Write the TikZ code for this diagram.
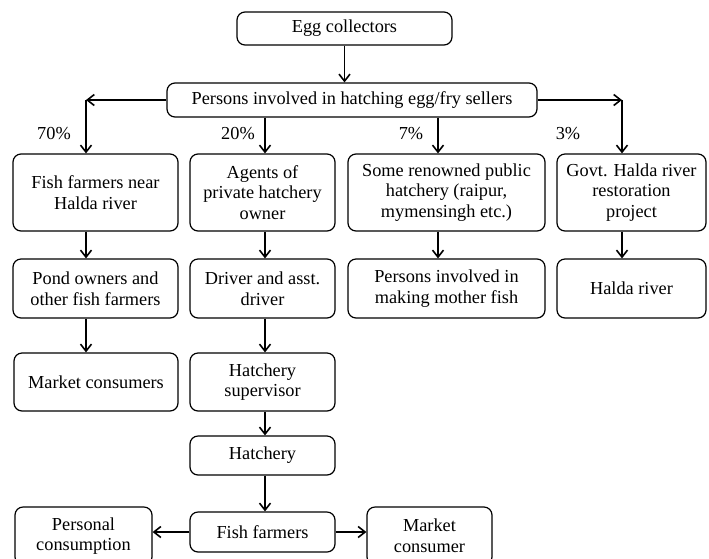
\documentclass[tikz,border=0pt]{standalone}
\usepackage{fontspec}
\setmainfont{Liberation Serif}
\usetikzlibrary{arrows.meta}
\begin{document}
\begin{tikzpicture}[x=1pt,y=-1pt,
  box/.style={draw,line width=1.2pt,rounded corners=8pt,inner sep=0pt,align=center,
    font=\fontsize{18.3}{20.7}\selectfont},
  arr/.style={line width=1.2pt,-{Straight Barb[length=7pt,width=11pt,line width=1.6pt]}},
  pct/.style={inner sep=0pt,font=\fontsize{18.3}{20.7}\selectfont}]
\useasboundingbox (0,0) rectangle (709,558);
% top
\node[box,minimum width=215pt,minimum height=33pt] (egg) at (344.5,28.5) {Egg collectors};
\node[box,minimum width=370pt,minimum height=34pt] (persons) at (352,100) {Persons involved in hatching egg/fry sellers};
% row 1
\node[box,minimum width=165pt,minimum height=77pt] (fishnear) at (95.5,192.5) {Fish farmers near\\Halda river};
\node[box,minimum width=145pt,minimum height=77pt] (agents) at (262.5,192.5) {Agents of\\private hatchery\\owner};
\node[box,minimum width=197pt,minimum height=77pt] (renowned) at (446.5,192.5) {Some renowned public\\hatchery (raipur,\\mymensingh etc.)};
\node[box,minimum width=149pt,minimum height=77pt] (govt) at (631.5,192.5) {Govt. Halda river\\restoration\\project};
% row 2
\node[box,minimum width=165pt,minimum height=59pt] (pond) at (95.5,288.5) {Pond owners and\\other fish farmers};
\node[box,minimum width=145pt,minimum height=59pt] (driver) at (262.5,288.5) {Driver and asst.\\driver};
\node[box,minimum width=197pt,minimum height=59pt] (mother) at (446.5,288.5) {Persons involved in\\making mother fish};
\node[box,minimum width=149pt,minimum height=59pt] (halda) at (631.5,288.5) {Halda river};
% row 3
\node[box,minimum width=164pt,minimum height=58pt] (market) at (96,382) {Market consumers};
\node[box,minimum width=145pt,minimum height=58pt] (super) at (262.5,382) {Hatchery\\supervisor};
% lower chain
\node[box,minimum width=145pt,minimum height=39pt] (hatchery) at (262.5,455.5) {Hatchery};
\node[box,minimum width=145pt,minimum height=40pt] (farmers) at (262.5,532) {Fish farmers};
\node[box,minimum width=137pt,minimum height=58pt] (personal) at (83.5,536) {Personal\\consumption};
\node[box,minimum width=125pt,minimum height=58pt] (mcons) at (429.5,536) {Market\\consumer};
% percentages
\node[pct] (p70) at (54,134) {70\%};
\node[pct] (p20) at (238,134) {20\%};
\node[pct] (p7) at (411,134) {7\%};
\node[pct] (p3) at (568,134) {3\%};
% column coordinates
\coordinate (k1) at (86,100);
\coordinate (k4) at (622,100);
\coordinate (x1) at (86,0);
\coordinate (x2) at (265,0);
\coordinate (x3) at (438,0);
\coordinate (x4) at (622,0);
% connectors
\draw[arr] (egg.south) -- (egg.south |- persons.north);
\draw[arr] (persons.west) -- (k1);
\draw[arr] (persons.east) -- (k4);
\draw[arr] (k1) -- (k1 |- fishnear.north);
\draw[arr] (k4) -- (k4 |- govt.north);
\draw[arr] (persons.south -| x2) -- (agents.north -| x2);
\draw[arr] (persons.south -| x3) -- (renowned.north -| x3);
\draw[arr] (fishnear.south -| x1) -- (pond.north -| x1);
\draw[arr] (agents.south -| x2) -- (driver.north -| x2);
\draw[arr] (renowned.south -| x3) -- (mother.north -| x3);
\draw[arr] (govt.south -| x4) -- (halda.north -| x4);
\draw[arr] (pond.south -| x1) -- (market.north -| x1);
\draw[arr] (driver.south -| x2) -- (super.north -| x2);
\draw[arr] (super.south -| x2) -- (hatchery.north -| x2);
\draw[arr] (hatchery.south -| x2) -- (farmers.north -| x2);
\draw[arr] (farmers.west) -- (farmers.west -| personal.east);
\draw[arr] (farmers.east) -- (farmers.east -| mcons.west);
\end{tikzpicture}
\end{document}
